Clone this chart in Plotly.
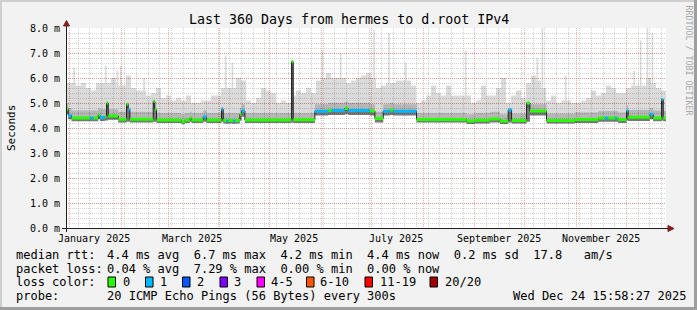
import plotly.graph_objects as go
import pandas as pd

# ---------------- data ----------------
t_start = "2024-12-29 15:58:27"
t_end = "2025-12-24 15:58:27"

# median rtt (ms) as step segments: start date, value, loss (pings lost of 20)
seg_start = [
    "2024-12-29 15:58", "2024-12-31", "2025-01-02", "2025-01-13", "2025-01-15",
    "2025-01-18", "2025-01-19", "2025-01-22", "2025-01-23", "2025-01-24",
    "2025-01-30", "2025-02-04", "2025-02-05", "2025-02-06", "2025-02-20",
    "2025-02-21", "2025-02-22", "2025-03-09", "2025-03-11", "2025-03-14",
    "2025-03-15", "2025-03-22", "2025-03-24", "2025-04-02", "2025-04-03",
    "2025-04-05", "2025-04-06", "2025-04-09", "2025-04-10", "2025-04-13",
    "2025-04-14", "2025-04-16", "2025-05-14", "2025-05-15", "2025-05-28",
    "2025-06-05", "2025-06-07", "2025-06-15", "2025-06-17", "2025-06-30",
    "2025-07-03", "2025-07-08", "2025-07-12", "2025-07-14", "2025-07-28",
    "2025-08-27", "2025-09-01", "2025-09-10", "2025-09-16", "2025-09-21",
    "2025-09-23", "2025-10-02", "2025-10-04", "2025-10-14", "2025-10-31",
    "2025-11-14", "2025-11-18", "2025-11-20", "2025-11-24", "2025-11-25",
    "2025-11-26", "2025-12-01", "2025-12-02", "2025-12-15", "2025-12-17",
    "2025-12-22", "2025-12-23",
]
seg_median = [
    4.75, 4.50, 4.40, 4.40, 4.40,
    4.52, 4.42, 4.45, 5.00, 4.48,
    4.35, 4.95, 4.75, 4.35, 5.07,
    4.75, 4.32, 4.25, 4.32, 4.40,
    4.32, 4.45, 4.32, 4.75, 4.30,
    4.28, 4.30, 4.28, 4.30, 4.55,
    4.68, 4.32, 6.65, 4.33, 4.67,
    4.70, 4.70, 4.78, 4.70, 4.68,
    4.38, 4.67, 4.72, 4.67, 4.34,
    4.28, 4.31, 4.36, 4.28, 4.72,
    4.30, 5.00, 4.68, 4.30, 4.34,
    4.40, 4.40, 4.40, 4.40, 4.40,
    4.34, 4.69, 4.43, 4.55, 4.40,
    5.14, 4.40,
]
seg_loss = [
    0, 1, 0, 1, 0,
    0, 1, 0, 0, 0,
    0, 0, 1, 0, 0,
    0, 0, 0, 0, 0,
    0, 1, 0, 1, 0,
    1, 0, 1, 0, 0,
    1, 0, 0, 0, 1,
    0, 1, 0, 1, 0,
    0, 1, 0, 1, 0,
    0, 0, 0, 0, 1,
    0, 0, 0, 0, 0,
    0, 1, 0, 1, 0,
    0, 1, 0, 1, 0,
    1, 0,
]
# lowest ping and upper edge of the dense smoke (ms) per segment
seg_lo = [
    4.55, 4.35, 4.27, 4.27, 4.27,
    4.35, 4.28, 4.30, 4.30, 4.33,
    4.22, 4.25, 4.25, 4.22, 4.25,
    4.25, 4.20, 4.15, 4.20, 4.25,
    4.20, 4.25, 4.20, 4.25, 4.18,
    4.16, 4.18, 4.16, 4.18, 4.30,
    4.45, 4.20, 4.22, 4.20, 4.50,
    4.52, 4.52, 4.55, 4.52, 4.50,
    4.22, 4.50, 4.52, 4.50, 4.22,
    4.16, 4.18, 4.22, 4.16, 4.22,
    4.18, 4.25, 4.50, 4.18, 4.20,
    4.25, 4.25, 4.25, 4.25, 4.25,
    4.20, 4.30, 4.28, 4.35, 4.27,
    4.30, 4.27,
]
seg_hi = [
    5.00, 4.80, 4.70, 4.70, 4.70,
    4.80, 4.75, 4.75, 4.80, 4.75,
    4.65, 4.80, 4.80, 4.65, 4.80,
    4.80, 4.60, 4.55, 4.60, 4.65,
    4.60, 4.70, 4.60, 4.85, 4.60,
    4.60, 4.60, 4.60, 4.60, 4.80,
    4.95, 4.60, 4.70, 4.60, 4.95,
    5.00, 5.00, 5.05, 5.00, 4.95,
    4.65, 4.95, 5.00, 4.95, 4.60,
    4.55, 4.60, 4.65, 4.55, 4.80,
    4.58, 4.80, 4.95, 4.58, 4.62,
    4.68, 4.68, 4.68, 4.68, 4.68,
    4.62, 4.90, 4.72, 4.80, 4.70,
    4.90, 4.70,
]
# typical highest ping (ms), one value per 3 days
smoke_max = [
    5.8, 5.8, 5.7, 5.8, 5.6, 5.5, 5.8, 5.8, 5.5, 6.0,
    5.7, 5.8, 6.1, 5.6, 5.5, 5.5, 5.3, 5.4, 5.6, 5.2,
    5.3, 5.1, 5.2, 5.1, 5.3, 5.0, 5.0, 5.1, 5.1, 5.3,
    5.3, 5.6, 5.8, 5.6, 6.0, 5.9, 5.1, 5.0, 5.2, 5.6,
    5.5, 5.4, 5.0, 5.1, 5.0, 5.3, 5.5, 5.4, 5.6, 5.4,
    5.9, 6.0, 6.2, 6.0, 6.0, 5.8, 5.8, 5.9, 6.0, 6.1,
    6.2, 6.0, 5.6, 5.7, 5.8, 5.8, 5.9, 5.9, 5.8, 5.7,
    5.0, 5.1, 5.3, 5.7, 5.4, 5.3, 5.7, 5.3, 5.3, 5.3,
    5.2, 5.0, 5.1, 5.7, 5.3, 5.3, 5.6, 6.0, 5.0, 5.3,
    5.5, 5.2, 5.8, 6.1, 5.9, 5.6, 5.1, 5.3, 5.0, 5.1,
    5.2, 5.0, 5.0, 5.1, 5.2, 5.5, 5.3, 5.4, 5.7, 5.6,
    5.4, 5.4, 5.6, 5.7, 5.7, 5.8, 6.0, 5.8, 5.6, 5.5,
]
smoke_dates = list(pd.date_range(t_start, periods=len(smoke_max), freq="3D"))
# short outlier peaks of the highest ping (ms)
spike_dates = [
    "2025-01-03", "2025-01-22", "2025-01-29", "2025-01-31", "2025-02-14",
    "2025-04-04", "2025-04-08", "2025-05-14", "2025-06-01", "2025-06-12",
    "2025-07-02", "2025-07-11", "2025-07-21", "2025-08-26", "2025-10-08",
    "2025-10-11", "2025-10-12", "2025-10-25", "2025-12-05", "2025-12-09",
    "2025-12-13", "2025-12-16",
]
spike_peaks = [
    6.4, 6.5, 6.3, 6.5, 6.0,
    6.9, 6.6, 6.7, 7.1, 7.0,
    7.9, 7.8, 6.6, 7.1, 6.8,
    8.0, 7.9, 6.1, 6.3, 7.5,
    8.0, 7.8,
]

y_ticks = [0, 1, 2, 3, 4, 5, 6, 7, 8]
y_ticktext = [f"{v:.1f} m" for v in y_ticks]
x_labels = ["January 2025", "March 2025", "May 2025", "July 2025",
            "September 2025", "November 2025"]
x_label_dates = ["2025-01-15 12:00", "2025-03-15 12:00", "2025-05-15 12:00",
                 "2025-07-15 12:00", "2025-09-15 12:00", "2025-11-15 12:00"]

loss_names = ["0", "1", "2", "3", "4-5", "6-10", "11-19", "20/20"]
loss_colors = ["#26ff00", "#00b8ff", "#0059ff", "#7e00ff", "#ff00ff",
               "#ff5500", "#ff0000", "#a10000"]
loss_class = {0: 0, 1: 1, 2: 2, 3: 3}

stats_rtt = "4.4 ms avg  6.7 ms max  4.2 ms min  4.4 ms now  0.2 ms sd  17.8   am/s"
stats_loss = "0.04 % avg  7.29 % max  0.00 % min  0.00 % now"
probe_txt = "20 ICMP Echo Pings (56 Bytes) every 300s"
stamp_txt = "Wed Dec 24 15:58:27 2025"
title_txt = "Last 360 Days from hermes to d.root IPv4"

# ---------------- geometry ----------------
W, H = 697, 310
L, T, PW, PH = 66, 28, 600, 200
MONO = "DejaVu Sans Mono"


def px(x):
    return (x - L) / PW


def py(y):
    return (T + PH - y) / PH


seg_x = seg_start + [t_end]
med_y = seg_median + [seg_median[-1]]
lo_y = seg_lo + [seg_lo[-1]]
hi_y = seg_hi + [seg_hi[-1]]

# merge the 3-day envelope with the one-day outlier peaks into one step line
events = [(d, v, 0) for d, v in zip(smoke_dates, smoke_max)]
day = pd.Timedelta(days=1)
for d, v in zip(spike_dates, spike_peaks):
    d = pd.Timestamp(d)
    k = max(i for i, sd in enumerate(smoke_dates) if sd <= d)
    events.append((d, v, 1))
    events.append((d + day, smoke_max[k], 2))
events.sort(key=lambda e: (e[0], e[2]))
max_x, max_y = [], []
active_spike_end = None
for d, v, kind in events:
    if kind == 0 and active_spike_end is not None and d < active_spike_end:
        continue  # base change swallowed by an active peak
    if kind == 1:
        active_spike_end = d + day
    if kind == 2:
        active_spike_end = None
    max_x.append(d)
    max_y.append(v)
max_x.append(pd.Timestamp(t_end))
max_y.append(smoke_max[-1])

fig = go.Figure()


def band(x, y, fill=None, color=None, width=0, lc="rgba(0,0,0,0)"):
    fig.add_trace(go.Scatter(
        x=x, y=y, mode="lines", line=dict(shape="hv", width=width, color=lc),
        fill=fill, fillcolor=color, hoverinfo="skip", showlegend=False))


# smoke
band(seg_x, lo_y)
band(max_x, max_y, "tonexty", "rgba(0,0,0,0.14)")
band(seg_x, med_y)
band(seg_x, hi_y, "tonexty", "rgba(0,0,0,0.17)")
band(seg_x, lo_y)
band(seg_x, med_y, "tonexty", "rgba(0,0,0,0.45)")
# thin median line
band(seg_x, med_y, width=1, lc="#202020")

# loss coloured median bands
for cls, col in enumerate(loss_colors):
    xs, ys = [], []
    for i, v in enumerate(seg_median):
        if loss_class.get(seg_loss[i], -1) == cls:
            xs += [seg_x[i], seg_x[i + 1], None]
            ys += [v, v, None]
    if xs:
        fig.add_trace(go.Scatter(x=xs, y=ys, mode="lines",
                                 line=dict(color=col, width=3),
                                 hoverinfo="skip", showlegend=False))

grid_minor = "rgba(143,143,143,0.4)"
grid_major = "rgba(222,79,79,0.45)"

fig.update_xaxes(
    type="date", range=[t_start, t_end], showgrid=True, gridcolor=grid_major,
    griddash="1px,1px", gridwidth=1, tickmode="linear", tick0="2025-01-01",
    dtick="M1", showticklabels=False, ticks="", zeroline=False, showline=False,
    minor=dict(dtick=7 * 86400000, tick0="2025-01-06", showgrid=True,
               gridcolor=grid_minor, griddash="1px,1px", gridwidth=1, ticks=""),
)
fig.update_yaxes(
    range=[0, 8], tickmode="array", tickvals=y_ticks, ticktext=y_ticktext,
    showgrid=True, gridcolor=grid_major, griddash="1px,1px", gridwidth=1,
    ticks="", zeroline=False, showline=False, ticklabelstandoff=5,
    tickfont=dict(family=MONO, size=10, color="#000"),
    minor=dict(dtick=0.2, showgrid=True, gridcolor=grid_minor,
               griddash="1px,1px", gridwidth=1, ticks=""),
)

ann = []


def text(x, y, s, size=12, anchor="left", color="#000", angle=0, ref_x="paper"):
    ann.append(dict(x=x, y=py(y), xref=ref_x, yref="paper", text=s,
                    showarrow=False, xanchor=anchor, yanchor="middle",
                    textangle=angle, borderpad=0, borderwidth=0,
                    font=dict(family=MONO, size=size, color=color)))


text(px(348.5), 19, title_txt, size=13.3, anchor="center")
text(px(11), 128, "Seconds", size=11, anchor="center", angle=-90)
text(px(688.5), 60, "RRDTOOL / TOBI OETIKER", size=8.3, anchor="center",
     color="#a8a8a8", angle=90)
for d, s in zip(x_label_dates, x_labels):
    text(d, 238, s, size=10, anchor="center", ref_x="x")

text(px(16), 255, "median rtt:")
text(px(107), 255, stats_rtt)
text(px(16), 268.5, "packet loss:")
text(px(107), 268.5, stats_loss)
text(px(16), 282, "loss color:")
text(px(16), 296, "probe:")
text(px(107), 296, probe_txt)
text(px(512.5), 296, stamp_txt)

box_x = [108, 145.5, 182.5, 220, 257, 306.5, 365, 430]
label_x = [123, 160, 197, 234, 270.5, 320, 380, 445]
shapes = []
for bx, lx, name, col in zip(box_x, label_x, loss_names, loss_colors):
    shapes.append(dict(type="rect", xref="paper", yref="paper",
                       x0=px(bx), x1=px(bx + 7.5), y0=py(287), y1=py(277),
                       fillcolor=col, line=dict(color="#000", width=1)))
    text(px(lx), 282, name)

axis_col = "#1f1f1f"
arrow_col = "#801f1f"
# axes
shapes.append(dict(type="line", xref="paper", yref="paper", x0=px(62), x1=px(669),
                   y0=py(228.5), y1=py(228.5), line=dict(color=axis_col, width=1)))
shapes.append(dict(type="line", xref="paper", yref="paper", x0=px(66.5), x1=px(66.5),
                   y0=py(232), y1=py(25), line=dict(color=axis_col, width=1)))


def tri(pts):
    path = "M " + " L ".join(f"{px(a)},{py(b)}" for a, b in pts) + " Z"
    shapes.append(dict(type="path", xref="paper", yref="paper", path=path,
                       fillcolor=arrow_col, line=dict(color=arrow_col, width=1)))


tri([(668, 225.5), (674, 228.5), (668, 231.5)])
tri([(63.5, 26), (66.5, 20.5), (69.5, 26)])

# image frame (shades)
shapes.append(dict(type="rect", xref="paper", yref="paper", x0=px(0), x1=px(697),
                   y0=py(2), y1=py(0), fillcolor="#cfcfcf", line=dict(width=0)))
shapes.append(dict(type="rect", xref="paper", yref="paper", x0=px(0), x1=px(2),
                   y0=py(310), y1=py(0), fillcolor="#cfcfcf", line=dict(width=0)))
shapes.append(dict(type="rect", xref="paper", yref="paper", x0=px(694), x1=px(697),
                   y0=py(310), y1=py(0), fillcolor="#9e9e9e", line=dict(width=0)))
shapes.append(dict(type="rect", xref="paper", yref="paper", x0=px(0), x1=px(697),
                   y0=py(310), y1=py(307), fillcolor="#9e9e9e", line=dict(width=0)))

fig.update_layout(
    width=W, height=H, autosize=False,
    margin=dict(l=L, r=W - L - PW, t=T, b=H - T - PH, pad=0),
    paper_bgcolor="#f2f2f2", plot_bgcolor="#ffffff",
    showlegend=False, annotations=ann, shapes=shapes,
    font=dict(family=MONO, size=12, color="#000"),
)

fig.write_html("out.html")
